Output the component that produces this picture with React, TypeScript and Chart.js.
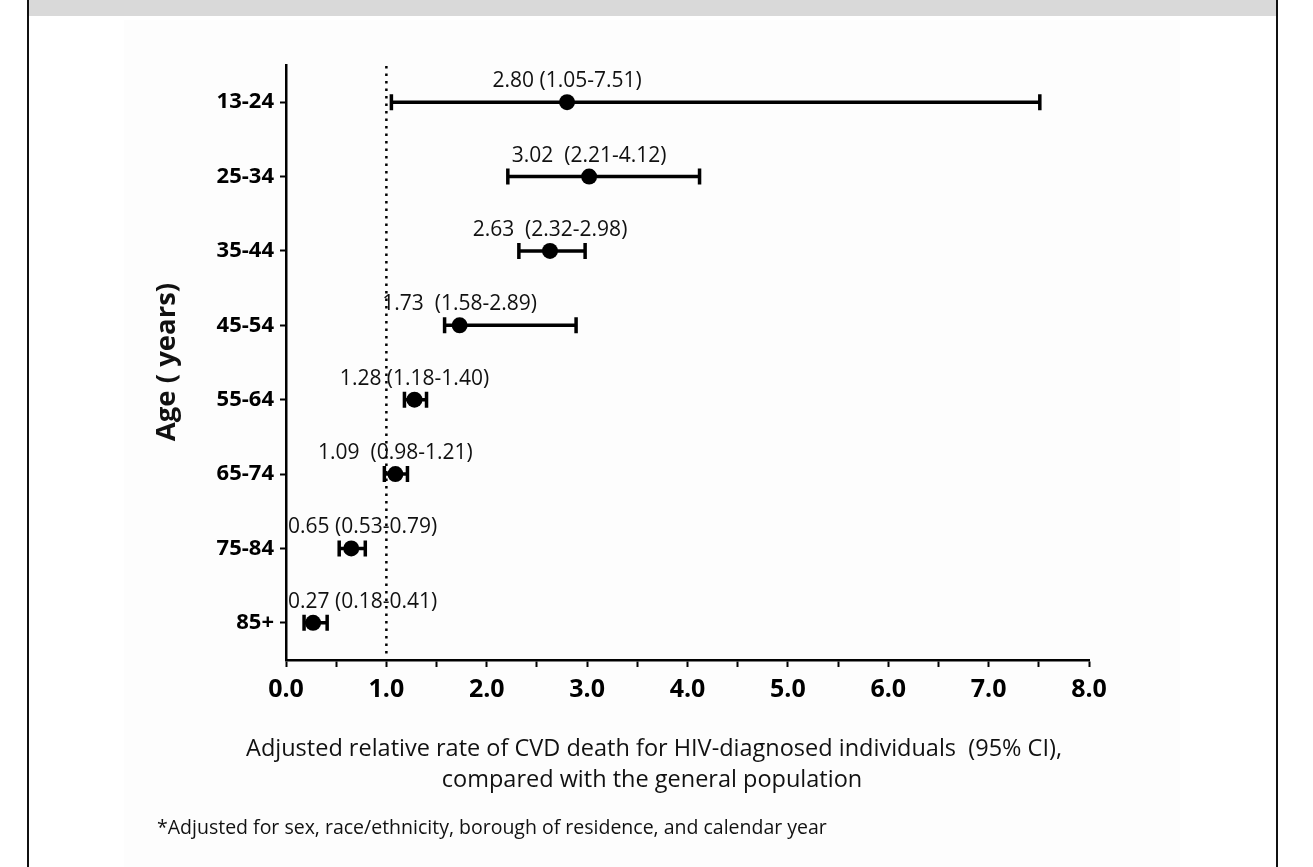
import React, { useEffect, useRef } from 'react';
import { Chart, registerables } from 'chart.js';

Chart.register(...registerables);

// ---- data ----
const ageGroups = ['13-24', '25-34', '35-44', '45-54', '55-64', '65-74', '75-84', '85+'];
const rateRatios = [2.8, 3.02, 2.63, 1.73, 1.28, 1.09, 0.65, 0.27];
const ciLower = [1.05, 2.21, 2.32, 1.58, 1.18, 0.98, 0.53, 0.18];
const ciUpper = [7.51, 4.12, 2.98, 2.89, 1.4, 1.21, 0.79, 0.41];
const pointLabels = [
  '2.80 (1.05-7.51)',
  '3.02  (2.21-4.12)',
  '2.63  (2.32-2.98)',
  '1.73  (1.58-2.89)',
  '1.28 (1.18-1.40)',
  '1.09  (0.98-1.21)',
  '0.65 (0.53-0.79)',
  '0.27 (0.18-0.41)',
];
const xTickLabels = ['0.0', '1.0', '2.0', '3.0', '4.0', '5.0', '6.0', '7.0', '8.0'];
const referenceValue = 1.0;
const xTitleLines = [
  'Adjusted relative rate of CVD death for HIV-diagnosed individuals  (95% CI),',
  'compared with the general population',
];
const yTitle = 'Age ( years)';
const footnote = '*Adjusted for sex, race/ethnicity, borough of residence, and calendar year';

const FONT = "'Open Sans', 'Noto Sans', sans-serif";

const forestPlugin = {
  id: 'forestPlugin',
  beforeDatasetsDraw(chart: any) {
    const { ctx, chartArea, scales } = chart;
    const x = scales.x;
    const y = scales.y;
    ctx.save();
    // reference dotted line
    const rx = x.getPixelForValue(referenceValue);
    ctx.strokeStyle = '#000';
    ctx.lineWidth = 2.5;
    ctx.setLineDash([2.5, 5]);
    ctx.beginPath();
    ctx.moveTo(rx, chartArea.top + 1);
    ctx.lineTo(rx, chartArea.bottom - 6);
    ctx.stroke();
    ctx.setLineDash([]);
    // error bars
    ctx.lineWidth = 3.5;
    ageGroups.forEach((_, i) => {
      const py = y.getPixelForValue(i);
      const x1 = x.getPixelForValue(ciLower[i]);
      const x2 = x.getPixelForValue(ciUpper[i]);
      ctx.beginPath();
      ctx.moveTo(x1, py);
      ctx.lineTo(x2, py);
      ctx.moveTo(x1, py - 8);
      ctx.lineTo(x1, py + 8);
      ctx.moveTo(x2, py - 8);
      ctx.lineTo(x2, py + 8);
      ctx.stroke();
    });
    ctx.restore();
  },
  afterDatasetsDraw(chart: any) {
    const { ctx, chartArea, scales } = chart;
    const x = scales.x;
    const y = scales.y;
    ctx.save();
    ctx.fillStyle = '#111';
    ctx.font = `21px ${FONT}`;
    ctx.textBaseline = 'middle';
    ctx.textAlign = 'left';
    ageGroups.forEach((_, i) => {
      const px = x.getPixelForValue(rateRatios[i]);
      const py = y.getPixelForValue(i);
      const w = ctx.measureText(pointLabels[i]).width;
      const left = Math.max(px - w / 2, chartArea.left + 2);
      ctx.fillText(pointLabels[i], left, py - 21);
    });
    ctx.restore();
  },
  afterDraw(chart: any) {
    const { ctx } = chart;
    ctx.save();
    ctx.fillStyle = '#111';
    ctx.textBaseline = 'middle';
    // x title
    ctx.font = `23.5px ${FONT}`;
    ctx.textAlign = 'center';
    ctx.fillText(xTitleLines[0], 654, 749);
    ctx.fillText(xTitleLines[1], 652, 780);
    // footnote
    ctx.font = `19.5px ${FONT}`;
    ctx.textAlign = 'left';
    ctx.fillText(footnote, 157, 828);
    // y title
    ctx.translate(167, 362);
    ctx.rotate(-Math.PI / 2);
    ctx.font = `bold 27.5px ${FONT}`;
    ctx.textAlign = 'center';
    ctx.fillText(yTitle, 0, 0);
    ctx.restore();
  },
};

export default function App() {
  const canvasRef = useRef<HTMLCanvasElement | null>(null);

  useEffect(() => {
    if (!canvasRef.current) return;
    const chart = new Chart(canvasRef.current, {
      type: 'scatter',
      data: {
        datasets: [
          {
            data: rateRatios.map((v, i) => ({ x: v, y: ageGroups[i] })) as any,
            backgroundColor: '#000',
            borderColor: '#000',
            borderWidth: 0,
            pointRadius: 8,
            pointHoverRadius: 8,
          },
        ],
      },
      options: {
        responsive: false,
        animation: false,
        devicePixelRatio: 1,
        layout: { padding: { left: 0, top: 65, right: 224, bottom: 167 } },
        plugins: {
          legend: { display: false },
          tooltip: { enabled: false },
        },
        scales: {
          x: {
            type: 'linear',
            min: 0,
            max: 8,
            afterFit: (s: any) => {
              s.height = 40;
            },
            border: { display: true, color: '#000', width: 2.5 },
            grid: {
              display: true,
              drawOnChartArea: false,
              drawTicks: true,
              tickLength: 7,
              tickWidth: 2,
              color: '#000',
            },
            ticks: {
              stepSize: 0.5,
              autoSkip: false,
              maxRotation: 0,
              minRotation: 0,
              padding: 8,
              color: '#000',
              font: { family: FONT, size: 25, weight: 'bold' },
              callback: (v: any) => (Number.isInteger(v) ? xTickLabels[v] : ''),
            },
          },
          y: {
            type: 'category',
            labels: ageGroups,
            offset: true,
            afterFit: (s: any) => {
              s.width = 286;
            },
            border: { display: true, color: '#000', width: 2.5 },
            grid: {
              display: true,
              offset: false,
              drawOnChartArea: false,
              drawTicks: true,
              tickLength: 6,
              tickWidth: 2,
              color: '#000',
            },
            ticks: {
              padding: 6,
              color: '#000',
              font: { family: FONT, size: 22, weight: 'bold' },
            },
          },
        },
      } as any,
      plugins: [forestPlugin],
    });
    return () => chart.destroy();
  }, []);

  return (
    <div
      style={{
        position: 'absolute',
        left: 0,
        top: 0,
        width: 1313,
        height: 867,
        background: '#fff',
        overflow: 'hidden',
      }}
    >
      <div style={{ position: 'absolute', left: 124, top: 20, width: 1056, height: 847, background: '#fdfdfd' }} />
      <div style={{ position: 'absolute', left: 29, top: 0, width: 1247, height: 16, background: '#d9d9d9' }} />
      <div style={{ position: 'absolute', left: 27, top: 0, width: 2, height: 867, background: '#111' }} />
      <div style={{ position: 'absolute', left: 1276, top: 0, width: 2, height: 867, background: '#111' }} />
      <canvas
        ref={canvasRef}
        width={1313}
        height={867}
        style={{ position: 'absolute', left: 0, top: 0, width: 1313, height: 867 }}
      />
    </div>
  );
}
